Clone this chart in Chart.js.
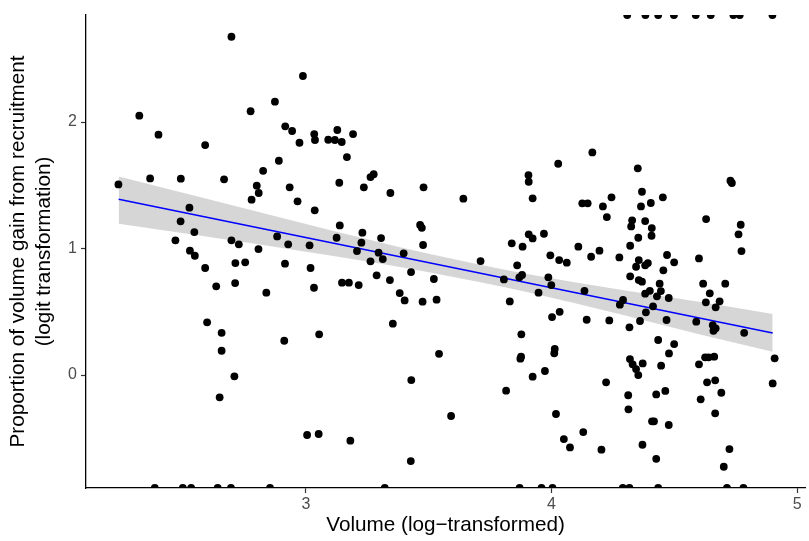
<!DOCTYPE html>
<html>
<head>
<meta charset="utf-8">
<title>Volume gain from recruitment</title>
<script src="https://cdn.jsdelivr.net/npm/chart.js"></script>
<style>
  html, body { margin: 0; padding: 0; background: #fff; }
  #wrap { width: 809px; height: 541px; }
</style>
</head>
<body>
<div id="wrap"><canvas id="chart" width="809" height="541"></canvas></div>
<script>
// x = log volume, y = logit(proportion gain); +/-Infinity are logit(1) / logit(0)
const volume = [
  2.697, 2.988, 2.322, 2.400, 2.590, 2.775, 2.874, 2.916, 2.944, 2.974, 3.034, 3.037, 3.091, 2.890, 2.826,
  2.237, 2.366, 2.491, 2.667, 2.800, 2.808, 2.779, 2.934, 2.966, 3.036, 2.526, 2.490, 2.546, 2.469, 2.528,
  2.548, 2.590, 2.635, 2.697, 2.727, 2.713, 2.753, 2.712, 2.839, 2.807, 2.883, 2.928, 3.015, 2.915, 3.019,
  3.033, 2.598, 2.657, 3.054, 2.657, 2.709, 2.649, 2.912, 3.005, 3.052,
  2.385, 2.499, 2.533, 2.641, 2.695, 2.854,
  3.128, 3.118, 3.146, 3.192, 3.167, 4.027, 3.136, 3.236, 3.263, 3.276, 3.344, 3.479, 3.641, 3.906, 3.907,
  3.923, 3.138, 3.125, 3.230, 3.226, 3.208, 3.306, 3.296, 3.313, 3.263, 3.398, 3.465, 3.472, 3.477, 3.428,
  3.521, 3.288, 3.342, 3.147, 3.175, 3.215, 3.382, 3.402, 3.475, 3.532, 3.354, 3.711, 3.838, 3.882, 3.907,
  3.923, 3.969, 3.995, 4.031, 4.062, 3.860, 3.880, 3.869, 3.806, 3.987, 3.999, 3.947, 3.830, 4.033, 4.002,
  3.877, 3.542, 3.429, 3.591, 3.181, 3.427, 3.876, 3.873, 4.013, 4.011, 3.923, 3.973, 3.815, 4.018, 4.050,
  4.075,
  3.321, 3.870, 3.959, 4.004,
  4.166, 4.351, 4.728, 4.734, 4.368, 4.244, 4.453, 4.125, 4.147, 4.209, 4.364, 4.404, 4.225, 4.629, 4.328,
  4.324, 4.381, 4.408, 4.407, 4.353, 4.770, 4.761, 4.773, 4.109, 4.195, 4.320, 4.161, 4.276, 4.470, 4.499,
  4.600, 4.355, 4.392, 4.381, 4.344, 4.455, 4.320, 4.355, 4.368, 4.440, 4.617, 4.707, 4.400, 4.381, 4.445,
  4.429, 4.477, 4.644, 4.684, 4.628, 4.668, 4.134, 4.291, 4.278, 4.413, 4.384, 4.143, 4.235, 4.360, 4.468,
  4.589, 4.317, 4.656, 4.668, 4.659, 4.784,
  4.434, 4.499, 4.478, 4.319, 4.330, 4.344, 4.353, 4.371, 4.446, 4.600, 4.625, 4.639, 4.662, 4.908, 4.900,
  4.222, 4.312, 4.313, 4.426, 4.463, 4.633, 4.666, 4.607, 4.691, 4.666, 4.409, 4.417, 4.477, 4.129, 4.203,
  4.370, 4.426, 4.724, 4.701,
  4.290, 4.317, 4.434, 4.714, 4.781,
  4.308, 4.382, 4.434, 4.498, 4.587, 4.648, 4.740, 4.766, 4.899
];
const gain = [
  2.674, 2.364, 2.050, 1.900, 1.818, 2.085, 2.161, 1.966, 1.929, 1.836, 1.905, 1.858, 1.860, 1.694, 1.614,
  1.507, 1.554, 1.552, 1.547, 1.497, 1.439, 1.386, 1.484, 1.373, 1.302, 1.323, 1.215, 1.130, 1.065, 0.983,
  0.943, 0.846, 0.701, 1.065, 1.033, 0.885, 0.891, 0.727, 0.651, 0.996, 1.096, 1.033, 1.025, 0.880, 0.846,
  0.690, 0.417, 0.334, 0.322, 0.192, -0.010, -0.176, 0.271, -0.474, -0.466,
  -Infinity, -Infinity, -Infinity, -Infinity, -Infinity, -Infinity,
  1.937, 1.858, 1.842, 1.905, 1.723, 1.670, 1.520, 1.484, 1.565, 1.587, 1.439, 1.484, 1.394, 1.581, 1.528,
  1.397, 1.183, 1.085, 1.125, 1.046, 0.980, 1.083, 0.967, 0.917, 0.899, 0.962, 1.186, 1.164, 1.028, 0.814,
  0.759, 0.788, 0.751, 0.730, 0.730, 0.711, 0.648, 0.590, 0.580, 0.596, 0.406, 0.901, 1.041, 1.015, 1.112,
  1.080, 1.117, 0.946, 0.909, 0.888, 0.867, 0.791, 0.772, 0.756, 0.772, 0.711, 0.651, 0.582, 0.500, 0.458,
  0.322, 0.168, -0.040, -0.324, -0.519, -0.680, 0.145, 0.129, 0.206, 0.172, -0.013, 0.032, -0.124, -0.308, -0.506,
  -0.572,
  -Infinity, -Infinity, -Infinity, -Infinity,
  1.760, 1.634, 1.536, 1.518, 1.449, 1.405, 1.405, 1.357, 1.357, 1.333, 1.333, 1.360, 1.249, 1.233, 1.223,
  1.175, 1.217, 1.162, 1.101, 1.085, 1.188, 1.112, 0.980, 1.015, 0.983, 1.022, 0.935, 0.930, 0.949, 0.891,
  0.922, 0.909, 0.885, 0.867, 0.856, 0.828, 0.780, 0.751, 0.738, 0.722, 0.722, 0.722, 0.666, 0.643, 0.664,
  0.622, 0.609, 0.646, 0.583, 0.575, 0.535, 0.666, 0.593, 0.556, 0.543, 0.496, 0.437, 0.432, 0.427, 0.435,
  0.422, 0.377, 0.395, 0.369, 0.350, 0.334,
  0.277, 0.245, 0.171, 0.126, 0.085, 0.047, 0.000, 0.092, 0.074, 0.085, 0.140, 0.140, 0.145, 0.132, -0.066,
  -0.058, -0.160, -0.271, -0.153, -0.126, -0.058, -0.042, -0.192, -0.140, -0.303, -0.366, -0.366, -0.395, -0.451, -0.590,
  -0.551, -0.662, -0.585, -0.725,
  -Infinity, -Infinity, -Infinity, -Infinity, -Infinity,
  Infinity, Infinity, Infinity, Infinity, Infinity, Infinity, Infinity, Infinity, Infinity
];

// linear fit and its 95% band
const fitX = [2.238, 4.900];
const fitY = [1.389, 0.332];
const bandX = [2.238, 2.6, 3.0, 3.4, 3.8, 4.2, 4.6, 4.900];
const bandLow = [1.195, 1.093, 0.975, 0.848, 0.697, 0.518, 0.323, 0.184];
const bandHigh = [1.570, 1.391, 1.193, 1.002, 0.837, 0.700, 0.579, 0.482];

const xTicks = [3, 4, 5];
const yTicks = [0, 1, 2];

const X_MIN = 2.105, X_MAX = 5.032;
const Y_MIN = -0.893, Y_MAX = 2.846;

const FONT = "'Liberation Sans', Arial, Helvetica, sans-serif";

// infinite values sit on the panel edge, like ggplot draws them
const points = volume.map((x, i) => ({
  x,
  y: gain[i] === Infinity ? Y_MAX : gain[i] === -Infinity ? Y_MIN : gain[i],
}));

new Chart(document.getElementById("chart"), {
  type: "scatter",
  data: {
    datasets: [
      {
        type: "scatter",
        data: points,
        pointRadius: 3.9,
        pointHoverRadius: 3.9,
        backgroundColor: "#000000",
        borderWidth: 0,
        order: 0,
        clip: 0,
      },
      {
        type: "line",
        data: fitX.map((x, i) => ({ x, y: fitY[i] })),
        borderColor: "#0000FF",
        borderWidth: 1.5,
        pointRadius: 0,
        fill: false,
        order: 1,
      },
      {
        type: "line",
        data: bandX.map((x, i) => ({ x, y: bandHigh[i] })),
        borderWidth: 0,
        pointRadius: 0,
        backgroundColor: "rgba(153,153,153,0.4)",
        fill: "+1",
        cubicInterpolationMode: "monotone",
        order: 2,
      },
      {
        type: "line",
        data: bandX.map((x, i) => ({ x, y: bandLow[i] })),
        borderWidth: 0,
        pointRadius: 0,
        fill: false,
        cubicInterpolationMode: "monotone",
        order: 3,
      },
    ],
  },
  options: {
    responsive: false,
    animation: false,
    devicePixelRatio: 1,
    layout: { padding: { top: 15, right: 0, left: 0, bottom: 0 } },
    plugins: { legend: { display: false }, tooltip: { enabled: false } },
    scales: {
      x: {
        type: "linear",
        min: X_MIN,
        max: X_MAX,
        afterBuildTicks: (s) => { s.ticks = xTicks.map((v) => ({ value: v })); },
        afterFit: (s) => { s.height = 53; },
        grid: { drawOnChartArea: false, tickLength: 5, color: "#333333", tickWidth: 1.2 },
        border: { color: "#000000", width: 1.3 },
        ticks: { color: "#4D4D4D", font: { size: 16, family: FONT }, padding: 2, maxRotation: 0 },
        title: {
          display: true,
          text: "Volume (log\u2212transformed)",
          color: "#000000",
          font: { size: 20.7, family: FONT },
          padding: { top: 0, bottom: 3 },
        },
      },
      y: {
        type: "linear",
        min: Y_MIN,
        max: Y_MAX,
        afterBuildTicks: (s) => { s.ticks = yTicks.map((v) => ({ value: v })); },
        afterFit: (s) => { s.width = 86; },
        grid: { drawOnChartArea: false, tickLength: 5, color: "#333333", tickWidth: 1.2 },
        border: { color: "#000000", width: 1.3 },
        ticks: { color: "#4D4D4D", font: { size: 16, family: FONT }, padding: 4 },
        title: {
          display: true,
          text: ["Proportion of volume gain from recruitment", "(logit transformation)"],
          color: "#000000",
          font: { size: 20.7, family: FONT, lineHeight: 1.22 },
          padding: { top: 6, bottom: 0 },
        },
      },
    },
  },
});
</script>
</body>
</html>
